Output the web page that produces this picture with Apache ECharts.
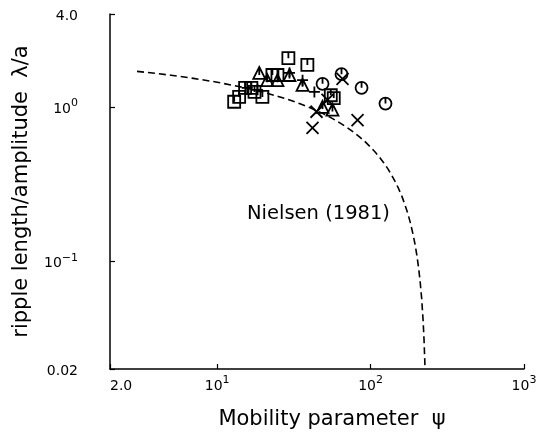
<!DOCTYPE html>
<html>
<head>
<meta charset="utf-8">
<script src="https://cdn.jsdelivr.net/npm/echarts@6/dist/echarts.min.js"></script>
<style>
  html, body { margin: 0; padding: 0; background: #fff; }
  #chart { width: 543px; height: 435px; }
</style>
</head>
<body>
<div id="chart"></div>
<script>
// Nielsen (1981) curve
var curvePsi = [3, 4, 5, 7, 10, 15, 20, 25, 30, 35, 40, 45, 50, 55, 60, 70, 78, 85, 92, 100, 107, 115, 122, 130, 137, 145, 152, 160, 167, 175, 182, 190, 195, 200, 205, 210, 215, 220, 223, 226.5];
var curveRatio = [1.699, 1.647, 1.604, 1.531, 1.445, 1.334, 1.245, 1.169, 1.103, 1.044, 0.991, 0.941, 0.895, 0.852, 0.812, 0.737, 0.682, 0.637, 0.595, 0.548, 0.510, 0.468, 0.433, 0.395, 0.362, 0.326, 0.296, 0.263, 0.234, 0.203, 0.176, 0.146, 0.128, 0.110, 0.092, 0.075, 0.058, 0.041, 0.031, 0.02];

// measured ripples, one array per marker
var squarePts = [[12.9, 1.08], [13.9, 1.16], [15.2, 1.33], [16.7, 1.33], [17.5, 1.25], [19.7, 1.16],
                 [22.9, 1.61], [24.7, 1.61], [29.1, 2.07], [38.7, 1.87], [55.0, 1.19], [57.5, 1.14]];
var trianglePts = [[18.8, 1.66], [21.2, 1.49], [24.7, 1.49], [29.6, 1.61], [36.0, 1.39], [48.6, 1.0], [56.4, 0.96]];
var circlePts = [[48.6, 1.41], [64.6, 1.63], [87.3, 1.33], [125, 1.05]];
var plusPts = [[15.7, 1.33], [18.3, 1.29], [29.6, 1.66], [36.0, 1.49], [43.0, 1.25]];
var crossPts = [[41.8, 0.73], [44.4, 0.93], [52.4, 1.11], [65.6, 1.52], [82.2, 0.82]];

var xTickLabels = { '30': '{n|2.0}', '100': '{n|10}{s|1}', '200': '{n|10}{s|2}', '300': '{n|10}{s|3}' };
var yTickLabels = { '-170': '{n|0.02}', '-100': '{n|10}{s|−1}', '0': '{n|10}{s|0}', '60': '{n|4.0}' };

var chart = echarts.init(document.getElementById('chart'));

var fontFam = 'DejaVu Sans, sans-serif';

var tickRich = {
    n: { fontFamily: fontFam, fontSize: 14, color: '#000', lineHeight: 18, verticalAlign: 'bottom' },
    s: { fontFamily: fontFam, fontSize: 11, color: '#000', lineHeight: 18, verticalAlign: 'top' }
};

function pts(arr, name, path, size) {
    return {
        name: name,
        type: 'scatter',
        data: arr,
        symbol: path,
        symbolSize: size,
        silent: true,
        itemStyle: { color: 'rgba(0,0,0,0)', borderColor: '#000', borderWidth: 1.8, opacity: 1 },
        z: 3
    };
}

var option = {
    backgroundColor: '#fff',
    animation: false,
    grid: { left: 110, right: 19, top: 14, bottom: 65 },
    xAxis: {
        type: 'log',
        logBase: 10,
        min: 2,
        max: 1000,
        name: 'Mobility parameter  ψ',
        nameLocation: 'middle',
        nameGap: 40,
        nameTextStyle: { fontFamily: fontFam, fontSize: 21, color: '#000', padding: [0, 0, 0, 30] },
        axisLine: { lineStyle: { color: '#000', width: 1.5 } },
        axisTick: { show: true, inside: true, length: 5, lineStyle: { color: '#000', width: 1.2 } },
        axisLabel: {
            margin: 6,
            alignMinLabel: 'left',
            rich: tickRich,
            formatter: function (v) {
                var k = String(Math.round(Math.log10(v) * 100));
                return xTickLabels[k] || '';
            }
        },
        splitLine: { show: false }
    },
    yAxis: {
        type: 'log',
        logBase: 10,
        min: 0.02,
        max: 4,
        name: 'ripple length/amplitude  λ/a',
        nameLocation: 'middle',
        nameGap: 78,
        nameTextStyle: { fontFamily: fontFam, fontSize: 21, color: '#000' },
        axisLine: { lineStyle: { color: '#000', width: 1.5 } },
        axisTick: { show: true, inside: true, length: 5, lineStyle: { color: '#000', width: 1.2 } },
        axisLabel: {
            margin: 32,
            rich: tickRich,
            formatter: function (v) {
                var k = String(Math.round(Math.log10(v) * 100));
                return yTickLabels[k] || '';
            }
        },
        splitLine: { show: false }
    },
    graphic: [{
        type: 'text',
        left: 247,
        top: 204,
        style: { text: 'Nielsen (1981)', fontFamily: fontFam, fontSize: 19.5, fill: '#000' }
    }],
    series: [
        {
            name: 'Nielsen (1981)',
            type: 'line',
            data: curvePsi.map(function (p, i) { return [p, curveRatio[i]]; }),
            showSymbol: false,
            silent: true,
            lineStyle: { color: '#000', width: 1.6, type: [7, 4] },
            z: 2
        },
        pts(squarePts, 'square', 'path://M0,0 L10,0 L10,10 L0,10 Z M5,0 L5,5', 12),
        pts(trianglePts, 'triangle', 'path://M5,0 L10,9 L0,9 Z M5,0 L5,6', 12),
        pts(circlePts, 'circle', 'path://M0,5 A5,5 0 1 1 10,5 A5,5 0 1 1 0,5 Z M5,0 L5,5', 12),
        pts(plusPts, 'plus', 'path://M5,0 L5,10 M0,5 L10,5', 11),
        pts(crossPts, 'cross', 'path://M0,0 L10,10 M10,0 L0,10', 12)
    ]
};

chart.setOption(option);
</script>
</body>
</html>
